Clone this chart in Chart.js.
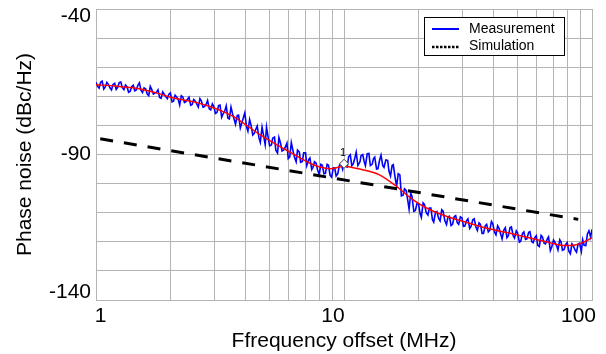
<!DOCTYPE html>
<html>
<head>
<meta charset="utf-8">
<script src="https://cdn.jsdelivr.net/npm/chart.js@4.4.1/dist/chart.umd.min.js"></script>
<style>
  html, body { margin: 0; padding: 0; background: #fff; }
  #wrap { width: 606px; height: 354px; }
</style>
</head>
<body>
<div id="wrap"><canvas id="pnChart" width="606" height="354"></canvas></div>
<script>
// ======================================
// DATA
// ======================================

// measurement sweep, MHz
const measFreq = [
  1.000, 1.015, 1.029, 1.044, 1.059, 1.075, 1.090, 1.106, 1.122, 1.138,
  1.155, 1.171, 1.189, 1.206, 1.223, 1.241, 1.259, 1.277, 1.296, 1.315,
  1.334, 1.353, 1.372, 1.393, 1.413, 1.433, 1.454, 1.475, 1.496, 1.518,
  1.540, 1.563, 1.585, 1.608, 1.631, 1.655, 1.679, 1.704, 1.728, 1.754,
  1.778, 1.805, 1.830, 1.858, 1.884, 1.912, 1.939, 1.968, 1.995, 2.026,
  2.054, 2.085, 2.113, 2.146, 2.175, 2.208, 2.239, 2.273, 2.304, 2.339,
  2.371, 2.408, 2.441, 2.478, 2.512, 2.551, 2.585, 2.625, 2.661, 2.702,
  2.738, 2.781, 2.818, 2.862, 2.901, 2.946, 2.985, 3.032, 3.073, 3.121,
  3.162, 3.212, 3.255, 3.306, 3.350, 3.403, 3.447, 3.503, 3.548, 3.605,
  3.652, 3.711, 3.758, 3.819, 3.868, 3.931, 3.981, 4.046, 4.097, 4.164,
  4.217, 4.286, 4.340, 4.411, 4.467, 4.540, 4.597, 4.673, 4.732, 4.810,
  4.870, 4.951, 5.012, 5.096, 5.158, 5.245, 5.309, 5.395, 5.464, 5.556,
  5.623, 5.715, 5.788, 5.888, 5.957, 6.043, 6.131, 6.237, 6.310, 6.412,
  6.494, 6.607, 6.683, 6.792, 6.879, 6.998, 7.079, 7.201, 7.286, 7.413,
  7.499, 7.601, 7.718, 7.820, 7.943, 8.066, 8.175, 8.302, 8.414, 8.551,
  8.660, 8.790, 8.913, 9.057, 9.173, 9.297, 9.441, 9.583, 9.716, 9.876,
  10.0, 10.15, 10.3, 10.44, 10.6, 10.75, 10.9, 11.06, 11.2, 11.38,
  11.6, 11.71, 11.9, 12.06, 12.2, 12.41, 12.6, 12.77, 13.0, 13.15,
  13.3, 13.53, 13.7, 13.93, 14.1, 14.33, 14.5, 14.75, 15.0, 15.18,
  15.4, 15.63, 15.8, 16.08, 16.3, 16.55, 16.8, 17.04, 17.3, 17.54,
  17.8, 18.05, 18.3, 18.58, 18.8, 19.12, 19.4, 19.68, 20.0, 20.26,
  20.5, 20.85, 21.1, 21.46, 21.8, 22.08, 22.4, 22.73, 23.0, 23.39,
  23.7, 24.08, 24.4, 24.78, 25.1, 25.51, 25.9, 26.25, 26.6, 27.02,
  27.4, 27.81, 28.2, 28.62, 29.0, 29.46, 29.9, 30.32, 30.7, 31.21,
  31.6, 32.12, 32.5, 33.06, 33.5, 34.03, 34.5, 35.03, 35.5, 36.05,
  36.5, 37.11, 37.6, 38.19, 38.7, 39.31, 39.8, 40.46, 41.0, 41.64,
  42.2, 42.86, 43.4, 44.11, 44.7, 45.40, 46.0, 46.73, 47.3, 48.10,
  48.7, 49.51, 50.1, 50.96, 51.6, 52.45, 53.1, 53.95, 54.6, 55.56,
  56.2, 57.15, 57.9, 58.88, 59.6, 60.43, 61.3, 62.37, 63.1, 64.12,
  64.9, 66.07, 66.8, 67.92, 68.8, 69.98, 70.8, 72.01, 72.9, 74.13,
  75.0, 76.01, 77.2, 78.20, 79.4, 80.66, 81.8, 83.02, 84.1, 85.51,
  86.6, 87.90, 89.1, 90.57, 91.7, 92.97, 94.4, 95.83, 97.2, 98.76,
  100
];

// measured phase noise, dBc/Hz
const measDb = [
  -65.2, -66.6, -67.2, -65.2, -64.8, -67.5, -66.8, -65.2, -65.9, -67.1,
  -67.8, -65.9, -65.5, -67.6, -66.9, -65.3, -65.1, -67.0, -67.7, -66.1,
  -66.7, -68.6, -68.3, -66.7, -66.2, -68.1, -67.8, -66.2, -65.4, -67.9,
  -68.7, -67.1, -67.4, -69.2, -69.8, -66.6, -67.7, -69.2, -68.9, -68.6,
  -67.8, -70.4, -70.7, -68.5, -69.3, -70.2, -70.8, -69.3, -68.8, -71.9,
  -71.7, -69.6, -70.2, -71.1, -73.0, -69.8, -70.2, -72.1, -71.8, -71.0,
  -70.3, -73.1, -72.8, -71.1, -71.6, -72.7, -73.7, -70.8, -71.6, -73.7,
  -73.5, -72.7, -71.4, -74.3, -74.7, -72.6, -73.5, -75.9, -75.6, -73.2,
  -73.0, -77.2, -76.0, -75.0, -73.3, -77.5, -77.8, -73.7, -75.8, -77.9,
  -79.6, -76.6, -76.5, -80.9, -79.3, -77.3, -75.7, -80.5, -82.0, -78.0,
  -79.8, -83.3, -82.8, -81.3, -80.2, -84.3, -85.8, -80.6, -83.2, -86.6,
  -80.6, -84.4, -87.0, -86.7, -84.4, -84.0, -88.5, -89.5, -84.2, -86.3,
  -88.8, -88.4, -87.6, -86.1, -91.4, -90.8, -85.9, -88.9, -90.9, -92.5,
  -88.5, -89.2, -92.7, -92.4, -89.4, -89.4, -93.8, -91.8, -91.2, -95.2,
  -94.4, -92.5, -93.0, -95.2, -97.0, -93.4, -93.7, -96.6, -96.5, -93.4,
  -93.7, -97.2, -97.8, -94.6, -94.6, -97.4, -96.6, -93.7, -93.1, -95.1,
  -92.5, -94.0, -94.3, -90.7, -90.1, -93.8, -93.2, -91.2, -89.2, -93.8,
  -92.5, -90.4, -90.0, -92.4, -93.8, -89.7, -89.6, -93.8, -93.3, -91.4,
  -90.9, -95.0, -94.9, -91.8, -90.2, -93.8, -94.4, -91.9, -92.0, -95.7,
  -97.4, -93.8, -93.5, -98.0, -100.8, -96.6, -97.0, -104.2, -104.0, -101.8,
  -102.3, -105.4, -108.8, -103.3, -104.3, -109.5, -109.2, -106.9, -107.1, -110.3,
  -111.6, -106.6, -107.1, -110.0, -110.8, -108.4, -108.4, -112.4, -113.2, -109.8,
  -109.6, -112.0, -112.8, -109.0, -109.5, -112.8, -114.1, -111.5, -111.2, -114.4,
  -114.0, -111.4, -111.0, -113.4, -114.0, -111.4, -111.8, -114.7, -114.6, -112.7,
  -112.1, -115.4, -114.8, -112.4, -112.1, -114.9, -116.1, -113.5, -114.0, -117.1,
  -117.1, -114.5, -114.0, -116.6, -116.1, -113.0, -113.8, -116.7, -117.6, -114.5,
  -115.4, -117.4, -119.0, -116.0, -115.2, -118.6, -117.9, -115.1, -114.9, -117.9,
  -118.7, -116.2, -116.9, -120.1, -119.8, -117.1, -116.6, -119.2, -119.0, -116.7,
  -116.5, -119.9, -120.3, -118.5, -117.9, -121.2, -121.6, -117.8, -118.3, -120.5,
  -120.7, -119.0, -118.3, -123.0, -121.8, -119.4, -120.1, -121.4, -122.8, -119.3,
  -120.0, -122.9, -122.6, -121.0, -120.3, -123.2, -124.1, -120.7, -121.4, -122.9,
  -123.6, -120.8, -120.5, -123.3, -119.3, -121.2, -121.3, -117.3, -116.2, -118.4,
  -115.7
];

// smooth red fit through the measurement
const fitFreq = [1, 1.2, 1.41, 1.6, 1.78, 2, 2.24, 2.51, 2.88, 3.16,
  3.58, 3.93, 4.58, 5.35, 6.23, 7.28, 8, 8.8, 9.6, 10,
  11, 12, 13.9, 16.3, 19, 22.2, 26, 29.4, 36.3, 49.6,
  67.6, 76.7, 84, 92, 100];
const fitDb = [-66.0, -66.5, -67.1, -68.0, -69.0, -70.3, -71.2, -72.0, -73.5, -74.8,
  -76.9, -79.2, -83.2, -86.6, -89.8, -93.0, -94.3, -94.9, -94.3, -94.0,
  -94.6, -95.3, -97.0, -101.0, -105.6, -109.0, -111.3, -112.7, -115.0, -117.6,
  -120.3, -121.3, -121.2, -120.2, -118.6];

// simulation (straight line on the log axis)
const simFreq = [1.04, 88];
const simDb = [-84.6, -112.3];

// marker "1"
const markerFreq = [10];
const markerDb = [-93.2];
const markerText = ['1'];

// axes
const xGrid = [1, 2, 3, 4, 5, 6, 7, 8, 9, 10, 20, 30, 40, 50, 60, 70, 80, 90, 100];
const xLabels = [1, 10, 100];
const xLabelShift = [4.5, -11, -13.5];
const yLabels = [-40, -90, -140];

const FONT = '"Liberation Sans", Arial, sans-serif';
const GRID = '#b4b4b4';

function pairs(xs, ys) {
    return xs.map((v, i) => ({ x: v, y: ys[i] }));
}

// ======================================
// PLUGIN: tick labels, marker label, legend box
// ======================================
const extras = {
    id: 'extras',
    afterDraw(chart) {
        const { ctx, scales: { x, y } } = chart;
        ctx.save();
        ctx.fillStyle = '#000';
        ctx.font = '21px ' + FONT;

        // x tick labels
        ctx.textAlign = 'center';
        ctx.textBaseline = 'alphabetic';
        xLabels.forEach((v, i) => {
            ctx.fillText(String(v), x.getPixelForValue(v) + xLabelShift[i], 322);
        });

        // y tick labels (first/last kept inside the range)
        ctx.textAlign = 'right';
        yLabels.forEach((v, i) => {
            const py = y.getPixelForValue(v);
            if (i === 0) { ctx.textBaseline = 'top'; ctx.fillText(String(v), 91, py - 3); }
            else if (i === yLabels.length - 1) { ctx.textBaseline = 'alphabetic'; ctx.fillText(String(v), 91, py - 2); }
            else { ctx.textBaseline = 'middle'; ctx.fillText(String(v), 91, py); }
        });

        // marker label
        ctx.font = '11px ' + FONT;
        ctx.textAlign = 'center';
        ctx.textBaseline = 'alphabetic';
        markerFreq.forEach((f, i) => {
            ctx.fillText(markerText[i], x.getPixelForValue(f) - 1, y.getPixelForValue(markerDb[i]) - 8);
        });

        // legend
        const bx = 424.5, by = 17.5, bw = 140, bh = 38;
        ctx.fillStyle = '#fff';
        ctx.fillRect(bx, by, bw, bh);
        ctx.strokeStyle = '#000';
        ctx.lineWidth = 1;
        ctx.strokeRect(bx, by, bw, bh);

        ctx.lineWidth = 2;
        ctx.strokeStyle = '#0000ff';
        ctx.beginPath(); ctx.moveTo(432, 29); ctx.lineTo(459, 29); ctx.stroke();

        ctx.strokeStyle = '#000';
        ctx.lineWidth = 2.5;
        ctx.setLineDash([2.5, 1.5]);
        ctx.beginPath(); ctx.moveTo(432, 47); ctx.lineTo(459, 47); ctx.stroke();
        ctx.setLineDash([]);

        ctx.fillStyle = '#000';
        ctx.font = '14px ' + FONT;
        ctx.textAlign = 'left';
        ctx.textBaseline = 'middle';
        ctx.fillText(chart.data.datasets[0].label, 469, 29);
        ctx.fillText(chart.data.datasets[2].label, 469, 46);
        ctx.restore();
    }
};

// ======================================
// CHART
// ======================================
document.addEventListener('DOMContentLoaded', function() {
    const ctx = document.getElementById('pnChart').getContext('2d');
    new Chart(ctx, {
        type: 'line',
        data: {
            datasets: [
                {
                    label: 'Measurement',
                    data: pairs(measFreq, measDb),
                    borderColor: '#0000ff',
                    borderWidth: 1.6,
                    pointRadius: 0,
                    tension: 0,
                    order: 3
                },
                {
                    label: 'Fit',
                    data: pairs(fitFreq, fitDb),
                    borderColor: '#ff0000',
                    borderWidth: 1.5,
                    pointRadius: 0,
                    cubicInterpolationMode: 'monotone',
                    order: 2
                },
                {
                    label: 'Simulation',
                    data: pairs(simFreq, simDb),
                    borderColor: '#000',
                    borderWidth: 3,
                    borderDash: [13, 11],
                    pointRadius: 0,
                    order: 1
                },
                {
                    label: 'Marker',
                    data: pairs(markerFreq, markerDb),
                    showLine: false,
                    pointStyle: 'rectRot',
                    pointRadius: 4.5,
                    pointBackgroundColor: '#fff',
                    pointBorderColor: '#444',
                    pointBorderWidth: 1,
                    order: 0
                }
            ]
        },
        options: {
            responsive: false,
            animation: false,
            layout: { padding: { left: 0, right: 14, top: 9, bottom: 0 } },
            plugins: { legend: { display: false }, tooltip: { enabled: false } },
            scales: {
                x: {
                    type: 'logarithmic',
                    min: 1,
                    max: 100,
                    afterBuildTicks: s => { s.ticks = xGrid.map(v => ({ value: v })); },
                    afterFit: s => { s.height = 54; },
                    ticks: { display: false, autoSkip: false },
                    grid: { color: GRID, lineWidth: 1, drawTicks: false },
                    border: { color: GRID },
                    title: {
                        display: true,
                        text: 'Ffrequency offset (MHz)',
                        color: '#000',
                        font: { family: FONT, size: 21 },
                        padding: { top: 0, bottom: 0 }
                    }
                },
                y: {
                    type: 'linear',
                    min: -140,
                    max: -40,
                    afterFit: s => { s.width = 96; },
                    ticks: { display: false, stepSize: 10 },
                    grid: { color: GRID, lineWidth: 1, drawTicks: false },
                    border: { color: GRID },
                    title: {
                        display: true,
                        text: 'Phase noise (dBc/Hz)',
                        color: '#000',
                        font: { family: FONT, size: 21 },
                        padding: { top: 13, bottom: 0 }
                    }
                }
            }
        },
        plugins: [extras]
    });
});
</script>
</body>
</html>
